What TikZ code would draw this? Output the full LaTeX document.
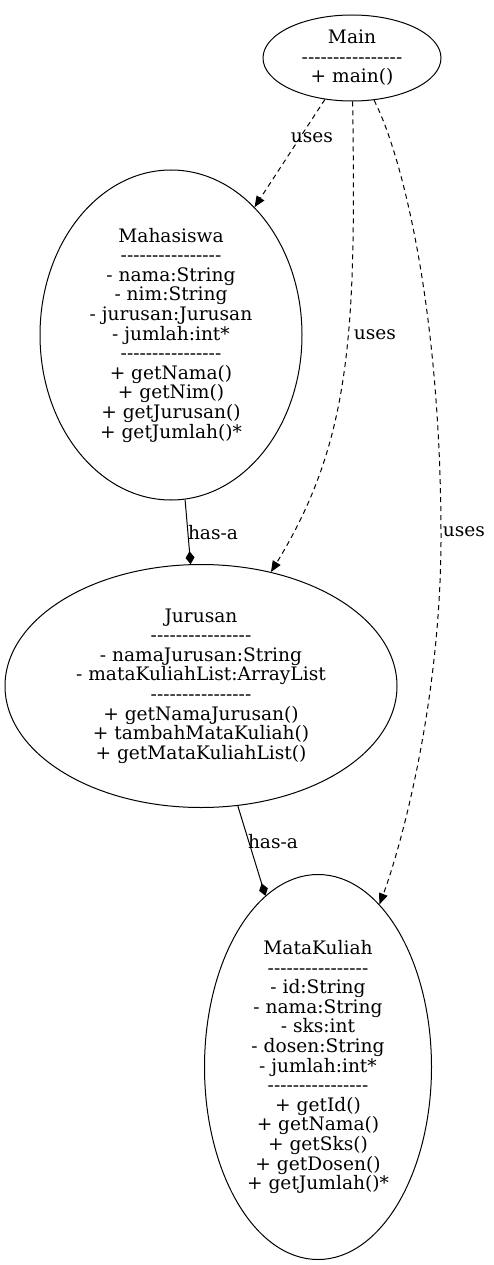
\documentclass[tikz,border=0pt]{standalone}
\usepackage{fontspec}
\setmainfont{DejaVu Serif}[Ligatures=TeXOff]
\usetikzlibrary{arrows.meta,shapes.geometric}

\newcommand{\sepline}{----------------}

\begin{document}
\begin{tikzpicture}[
  x=1pt, y=-1pt,
  font=\fontsize{18.6}{19.6}\selectfont,
  cls/.style={draw, ellipse, inner sep=0pt, align=center, line width=1pt},
  uses/.style={-{Triangle[length=11pt,width=9pt]}, line width=1pt, dash pattern=on 5pt off 4pt},
  hasa/.style={-{Diamond[length=13pt,width=9pt]}, line width=1pt},
  lbl/.style={inner sep=0pt},
]
\useasboundingbox (0,0) rectangle (493,1265);

%% ---------- classes ----------
\node[cls, minimum width=178pt, minimum height=86pt] (main) at (352,58)
  {Main\\ \sepline\\ + main()};

\node[cls, minimum width=262pt, minimum height=330pt] (mhs) at (171,335)
  {Mahasiswa\\ \sepline\\ - nama:String\\ - nim:String\\ - jurusan:Jurusan\\ - jumlah:int*\\
   \sepline\\ + getNama()\\ + getNim()\\ + getJurusan()\\ + getJumlah()*};

\node[cls, minimum width=392pt, minimum height=243pt] (jur) at (201,686)
  {Jurusan\\ \sepline\\ - namaJurusan:String\\ - mataKuliahList:ArrayList\\
   \sepline\\ + getNamaJurusan()\\ + tambahMataKuliah()\\ + getMataKuliahList()};

\node[cls, minimum width=227pt, minimum height=385pt] (mk) at (318,1067)
  {MataKuliah\\ \sepline\\ - id:String\\ - nama:String\\ - sks:int\\ - dosen:String\\ - jumlah:int*\\
   \sepline\\ + getId()\\ + getNama()\\ + getSks()\\ + getDosen()\\ + getJumlah()*};

%% ---------- uses ----------
\draw[uses] (main) -- (mhs);
\draw[uses] (main) .. controls (356,330) and (352,440) .. (jur);
\draw[uses] (main) .. controls (400,150) and (440,300) .. (441,530)
                   .. controls (442,700) and (400,850) .. (mk);

\node[lbl] (u1) at (312,138) {uses};
\node[lbl] (u2) at (375,335) {uses};
\node[lbl] (u3) at (464,532) {uses};

%% ---------- has-a ----------
\draw[hasa] (mhs) -- (jur);
\draw[hasa] (jur) -- (mk);

\node[lbl] (h1) at (213,533) {has-a};
\node[lbl] (h2) at (273,842) {has-a};

\end{tikzpicture}
\end{document}
